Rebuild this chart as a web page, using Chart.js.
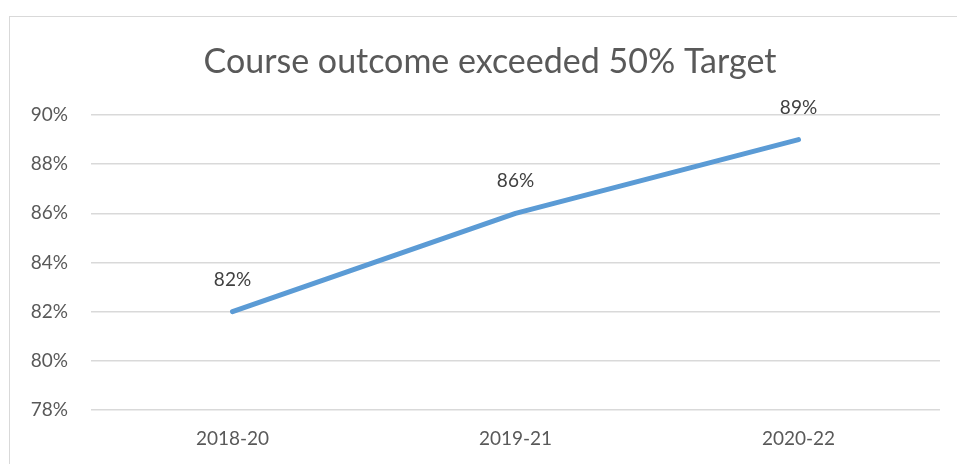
<!DOCTYPE html>
<html>
<head>
<meta charset="utf-8">
<script src="https://cdn.jsdelivr.net/npm/chart.js@4"></script>
<style>
    html, body { margin: 0; padding: 0; background: #fff; }
    #wrap { width: 957px; height: 464px; }
</style>
</head>
<body>
<div id="wrap"><canvas id="outcomeChart" width="957" height="464"></canvas></div>
<script>
// Chart data
const chartTitle = 'Course outcome exceeded 50% Target';
const years = ['2018-20', '2019-21', '2020-22'];
const outcomePct = [82, 86, 89];
const yMin = 78;
const yMax = 90;
const yStep = 2;

const fontFamily = "Lato, 'Open Sans', sans-serif";
const textColor = '#595959';

// draws the value above each point
const valueLabels = {
    id: 'valueLabels',
    afterDatasetsDraw(chart) {
        const ctx = chart.ctx;
        const meta = chart.getDatasetMeta(0);
        ctx.save();
        ctx.font = '19px ' + fontFamily;
        ctx.fillStyle = '#404040';
        ctx.textAlign = 'center';
        ctx.textBaseline = 'middle';
        meta.data.forEach(function (pt, i) {
            ctx.fillText(outcomePct[i] + '%', pt.x, pt.y - 32);
        });
        ctx.restore();
    }
};

// white background, light outer frame and the title
// (the original frame runs past the right edge, so the title sits right of centre)
const frame = {
    id: 'frame',
    beforeDraw(chart) {
        const ctx = chart.ctx;
        ctx.save();
        ctx.fillStyle = '#fff';
        ctx.fillRect(0, 0, chart.width, chart.height);
        ctx.strokeStyle = '#d9d9d9';
        ctx.lineWidth = 1;
        ctx.strokeRect(9.5, 16.5, chart.width + 20, chart.height + 20);
        ctx.font = '34px ' + fontFamily;
        ctx.fillStyle = textColor;
        ctx.textAlign = 'center';
        ctx.textBaseline = 'middle';
        ctx.fillText(chartTitle, 490, 62);
        ctx.restore();
    }
};

const ctx = document.getElementById('outcomeChart').getContext('2d');
window.outcomeChart = new Chart(ctx, {
    type: 'line',
    data: {
        labels: years,
        datasets: [{
            label: 'Outcome',
            data: outcomePct,
            borderColor: '#5B9BD5',
            borderWidth: 5,
            borderCapStyle: 'round',
            borderJoinStyle: 'round',
            pointRadius: 0,
            tension: 0,
            fill: false
        }]
    },
    options: {
        responsive: false,
        animation: false,
        layout: {
            padding: { top: 115, right: 17, bottom: 0, left: 10 }
        },
        plugins: {
            legend: { display: false },
            tooltip: { enabled: false },
            title: { display: false }
        },
        scales: {
            x: {
                offset: true,
                grid: { display: false, drawTicks: false },
                border: { display: false },
                ticks: {
                    color: textColor,
                    font: { family: fontFamily, size: 19 },
                    padding: 17
                },
                afterFit: function (scale) { scale.height = 54; }
            },
            y: {
                min: yMin,
                max: yMax,
                grid: { color: '#d9d9d9', lineWidth: 1.5, drawTicks: false },
                border: { display: false },
                ticks: {
                    stepSize: yStep,
                    color: textColor,
                    font: { family: fontFamily, size: 19 },
                    padding: 23,
                    callback: function (v) { return v + '%'; }
                },
                afterFit: function (scale) { scale.width = 81; }
            }
        }
    },
    plugins: [frame, valueLabels]
});
</script>
</body>
</html>
